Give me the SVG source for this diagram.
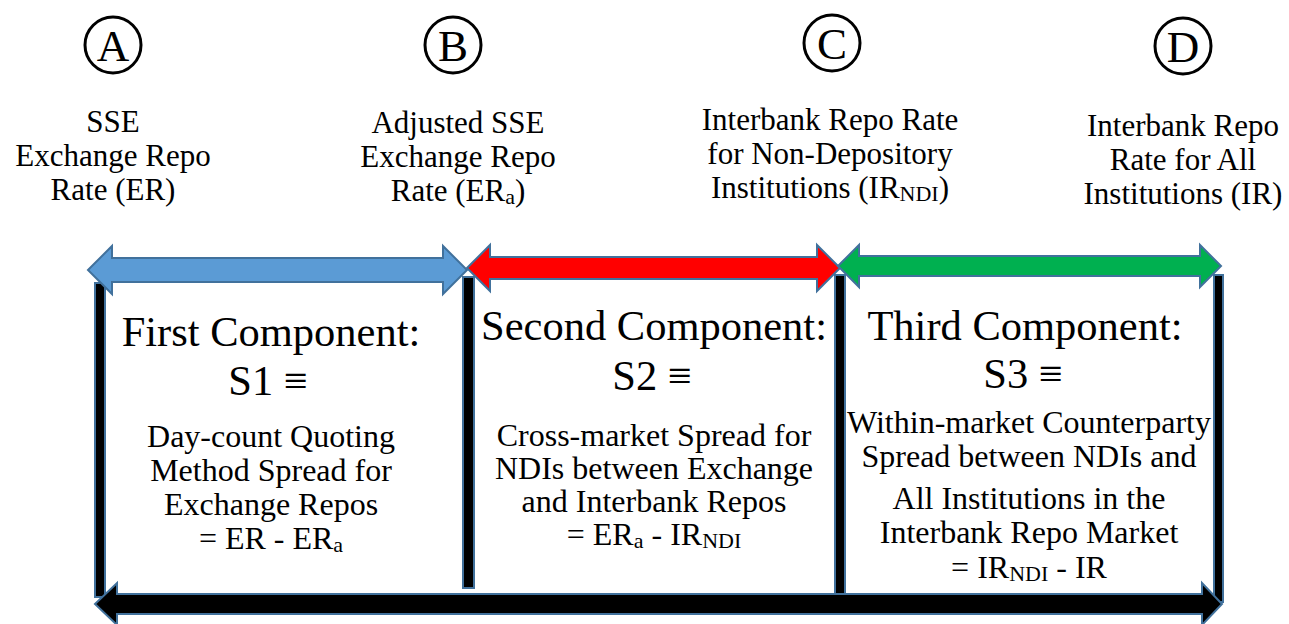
<svg xmlns="http://www.w3.org/2000/svg" width="1289" height="624" viewBox="0 0 1289 624">
  <style>
    text { font-family: "Liberation Serif", "Times New Roman", serif; fill: #000; text-anchor: middle; }
    .letter { font-size: 45px; }
    .head { font-size: 31px; }
    .title { font-size: 42.5px; }
    .sub { font-size: 32px; }
    .sm { font-size: 22px; }
    .ring { fill: none; stroke: #000; stroke-width: 3; }
    .bar { fill: #000; stroke: #41719c; stroke-width: 2; }
    .arrow { stroke: #41719c; stroke-width: 2; stroke-linejoin: miter; }
  </style>
  <rect width="1289" height="624" fill="#fff"/>

  <!-- circled point labels -->
  <g id="point-a"><circle class="ring" cx="113" cy="45" r="28"/><text class="letter" x="113" y="61">A</text></g>
  <g id="point-b"><circle class="ring" cx="453" cy="45" r="28"/><text class="letter" x="453" y="61">B</text></g>
  <g id="point-c"><circle class="ring" cx="832" cy="43" r="28"/><text class="letter" x="832" y="59">C</text></g>
  <g id="point-d"><circle class="ring" cx="1183" cy="46" r="28"/><text class="letter" x="1183" y="62">D</text></g>

  <!-- rate labels -->
  <g id="rate-er">
    <text class="head" x="113" y="132">SSE</text>
    <text class="head" x="113" y="166">Exchange Repo</text>
    <text class="head" x="113" y="200">Rate (ER)</text>
  </g>
  <g id="rate-era">
    <text class="head" x="458" y="133">Adjusted SSE</text>
    <text class="head" x="458" y="167">Exchange Repo</text>
    <text class="head" x="458" y="201">Rate (ER<tspan class="sm" dy="3">a</tspan><tspan dy="-3">)</tspan></text>
  </g>
  <g id="rate-irndi">
    <text class="head" x="830" y="130">Interbank Repo Rate</text>
    <text class="head" x="830" y="164">for Non-Depository</text>
    <text class="head" x="830" y="198">Institutions (IR<tspan class="sm" dy="3">NDI</tspan><tspan dy="-3">)</tspan></text>
  </g>
  <g id="rate-ir">
    <text class="head" x="1183" y="136">Interbank Repo</text>
    <text class="head" x="1183" y="170">Rate for All</text>
    <text class="head" x="1183" y="204">Institutions (IR)</text>
  </g>

  <!-- span dividers -->
  <g id="dividers">
    <rect class="bar" x="95" y="283" width="10" height="314"/>
    <rect class="bar" x="463" y="277" width="11" height="311"/>
    <rect class="bar" x="835" y="275" width="10" height="320"/>
    <rect class="bar" x="1214" y="275" width="9" height="327"/>
  </g>

  <!-- component spans -->
  <g id="connectors">
    <path class="arrow" fill="#5b9bd5" d="M88,270 L112,246 L112,258 L443,258 L443,246 L467,270 L443,294 L443,282 L112,282 L112,294 Z"/>
    <path class="arrow" fill="#ff0000" d="M467,268 L490,245 L490,257 L817,257 L817,245 L840,268 L817,291 L817,279 L490,279 L490,291 Z"/>
    <path class="arrow" fill="#00b050" d="M838,266 L859,245 L859,256 L1200,256 L1200,245 L1221,266 L1200,287 L1200,276 L859,276 L859,287 Z"/>
    <path class="arrow" fill="#000" d="M95,604 L117,583 L117,594 L1202,594 L1202,583 L1222,604 L1202,625 L1202,614 L117,614 L117,625 Z"/>
  </g>

  <!-- component descriptions -->
  <g id="component-1">
    <text class="title" x="271" y="346">First Component:</text>
    <text class="title" x="268" y="395">S1 ≡</text>
    <text class="sub" x="271" y="447">Day-count Quoting</text>
    <text class="sub" x="271" y="481">Method Spread for</text>
    <text class="sub" x="271" y="515">Exchange Repos</text>
    <text class="sub" x="271" y="549">= ER - ER<tspan class="sm" dy="3">a</tspan></text>
  </g>
  <g id="component-2">
    <text class="title" x="654" y="340">Second Component:</text>
    <text class="title" x="652" y="390">S2 ≡</text>
    <text class="sub" x="654" y="446">Cross-market Spread for</text>
    <text class="sub" x="654" y="479">NDIs between Exchange</text>
    <text class="sub" x="654" y="512">and Interbank Repos</text>
    <text class="sub" x="654" y="545">= ER<tspan class="sm" dy="3">a</tspan><tspan dy="-3"> - IR</tspan><tspan class="sm" dy="3">NDI</tspan></text>
  </g>
  <g id="component-3">
    <text class="title" x="1025" y="340">Third Component:</text>
    <text class="title" x="1023" y="388">S3 ≡</text>
    <text class="sub" x="1029" y="433">Within-market Counterparty</text>
    <text class="sub" x="1029" y="467">Spread between NDIs and</text>
    <text class="sub" x="1029" y="509">All Institutions in the</text>
    <text class="sub" x="1029" y="543">Interbank Repo Market</text>
    <text class="sub" x="1029" y="578">= IR<tspan class="sm" dy="3">NDI</tspan><tspan dy="-3"> - IR</tspan></text>
  </g>
</svg>
